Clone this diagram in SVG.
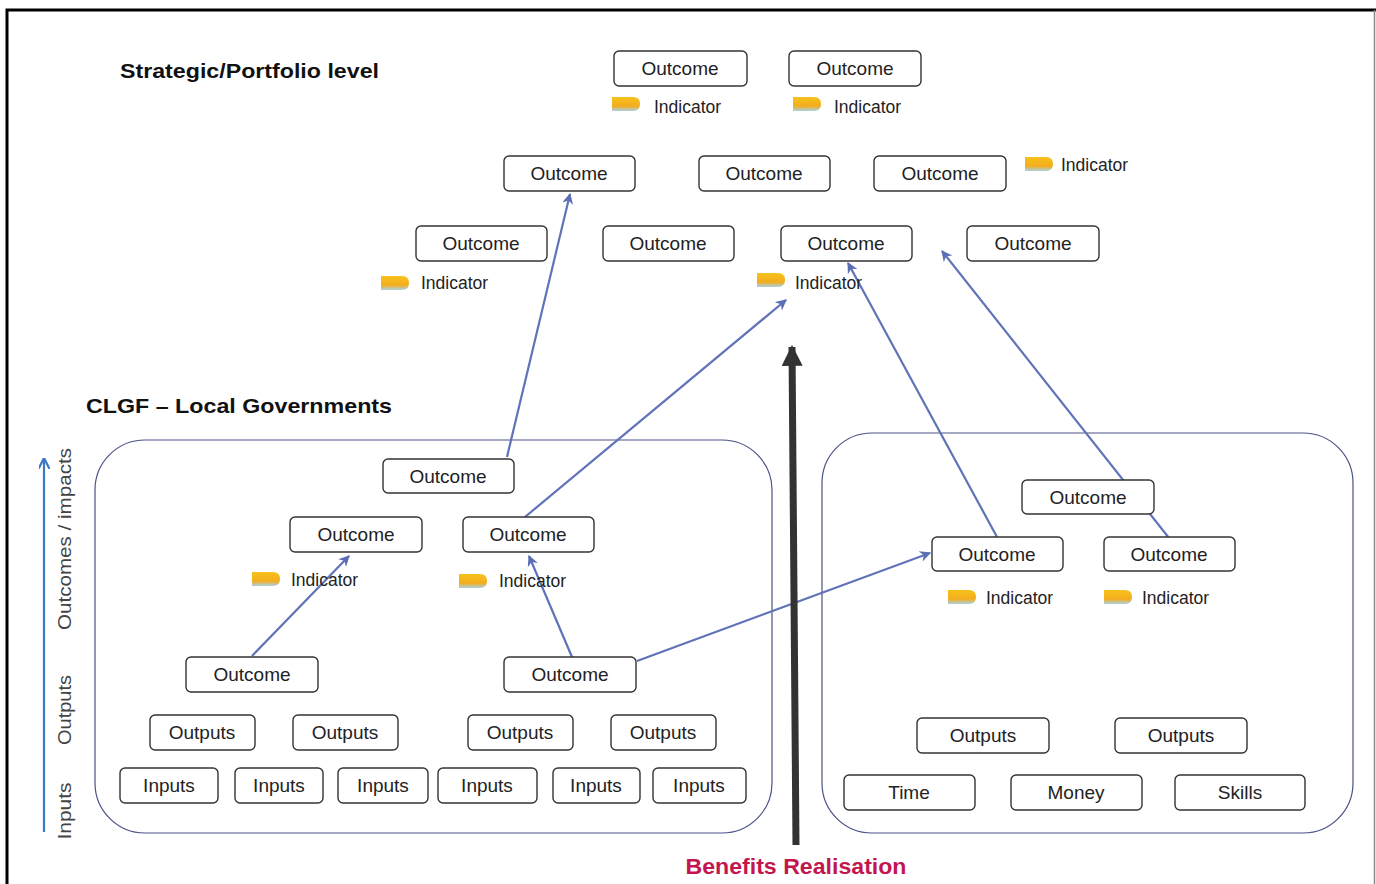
<svg xmlns="http://www.w3.org/2000/svg" width="1376" height="884" viewBox="0 0 1376 884">
<defs>
<marker id="ah" viewBox="0 0 10 10" refX="9" refY="5" markerWidth="5" markerHeight="5" orient="auto-start-reverse" markerUnits="strokeWidth">
<path d="M0,0 L10,5 L0,10 L3,5 z" fill="#5a6db5"/>
</marker>
<marker id="ahBig" viewBox="0 0 10 10" refX="9" refY="5" markerWidth="3" markerHeight="3" orient="auto" markerUnits="strokeWidth">
<path d="M0,0 L10,5 L0,10 z" fill="#333"/>
</marker>
<marker id="ahAxis" viewBox="0 0 10 10" refX="9" refY="5" markerWidth="5" markerHeight="5" orient="auto" markerUnits="strokeWidth">
<path d="M0,0 L10,5 L0,10" fill="none" stroke="#3d78c0" stroke-width="2"/>
</marker>
<linearGradient id="ind" x1="0" y1="0" x2="0" y2="1">
<stop offset="0" stop-color="#f6c21c"/>
<stop offset="0.65" stop-color="#f4ad1c"/>
<stop offset="1" stop-color="#a9d3e8"/>
</linearGradient>
<g id="icon"><path d="M0,0 H21 Q28,0 28,7 Q28,14 21,14 H0 z" fill="url(#ind)"/></g>
</defs>
<style>
.box{fill:#fff;stroke:#333;stroke-width:1.4}
.t{font-family:"Liberation Sans",Arial,sans-serif;font-size:19px;fill:#222;text-anchor:middle;dominant-baseline:central}
.ind{font-family:"Liberation Sans",Arial,sans-serif;font-size:17.5px;fill:#222}
.hdr{font-family:"Liberation Sans",Arial,sans-serif;font-size:21px;font-weight:bold;fill:#111}
.grp{fill:none;stroke:#4a5286;stroke-width:1.2}
.conn{stroke:#6073b8;stroke-width:2.2;fill:none}
.ax{font-family:"Liberation Sans",Arial,sans-serif;font-size:19px;fill:#444;text-anchor:middle}
</style>
<rect x="0" y="0" width="1376" height="884" fill="#fff"/>
<!-- frame -->
<path d="M7,884 V10 H1376" fill="none" stroke="#000" stroke-width="3"/>
<line x1="1374.5" y1="10" x2="1374.5" y2="884" stroke="#888" stroke-width="1.5"/>

<!-- headers -->
<text class="hdr" x="120" y="78" textLength="259" lengthAdjust="spacingAndGlyphs">Strategic/Portfolio level</text>
<text class="hdr" x="86" y="413" textLength="306" lengthAdjust="spacingAndGlyphs">CLGF – Local Governments</text>

<!-- group containers -->
<rect class="grp" x="95" y="440" width="677" height="393" rx="50"/>
<rect class="grp" x="822" y="433" width="531" height="400" rx="50"/>

<!-- left axis -->
<g id="axis">
<line x1="44" y1="832" x2="44" y2="459" stroke="#3d78c0" stroke-width="2.2" marker-end="url(#ahAxis)"/>
<text class="ax" transform="translate(71,811) rotate(-90)" textLength="57" lengthAdjust="spacingAndGlyphs">Inputs</text>
<text class="ax" transform="translate(71,710) rotate(-90)" textLength="70" lengthAdjust="spacingAndGlyphs">Outputs</text>
<text class="ax" transform="translate(71,539) rotate(-90)" textLength="182" lengthAdjust="spacingAndGlyphs">Outcomes / impacts</text>
</g>

<!-- connectors -->
<g id="connectors">
<line class="conn" x1="507" y1="457" x2="570" y2="194" marker-end="url(#ah)"/>
<line class="conn" x1="525" y1="517" x2="786" y2="300" marker-end="url(#ah)"/>
<line class="conn" x1="252" y1="656" x2="349" y2="556" stroke="#7076a4" marker-end="url(#ah)"/>
<line class="conn" x1="572" y1="657" x2="529" y2="556" stroke="#7076a4" marker-end="url(#ah)"/>
<line class="conn" x1="637" y1="661" x2="930" y2="553" marker-end="url(#ah)"/>
<line class="conn" x1="997" y1="537" x2="848" y2="263" stroke="#6a6fa8" marker-end="url(#ah)"/>
<line class="conn" x1="1169" y1="538" x2="942" y2="251" stroke="#6a6fa8" marker-end="url(#ah)"/>
<line x1="796" y1="845" x2="792" y2="347" stroke="#333" stroke-width="7" marker-end="url(#ahBig)"/>
</g>

<text x="796" y="874" font-family="'Liberation Sans',Arial,sans-serif" font-size="22" font-weight="bold" fill="#c3164f" text-anchor="middle" textLength="221" lengthAdjust="spacingAndGlyphs">Benefits Realisation</text>

<!-- strategic nodes -->
<g id="s1"><rect class="box" x="614" y="51" width="133" height="35" rx="5"/><text class="t" x="680" y="68">Outcome</text></g>
<g id="s2"><rect class="box" x="789" y="51" width="132" height="35" rx="5"/><text class="t" x="855" y="68">Outcome</text></g>
<g id="si1"><use href="#icon" x="612" y="97"/><text class="ind" x="654" y="113">Indicator</text></g>
<g id="si2"><use href="#icon" x="793" y="97"/><text class="ind" x="834" y="113">Indicator</text></g>

<g id="s3"><rect class="box" x="504" y="156" width="131" height="35" rx="5"/><text class="t" x="569" y="173">Outcome</text></g>
<g id="s4"><rect class="box" x="699" y="156" width="131" height="35" rx="5"/><text class="t" x="764" y="173">Outcome</text></g>
<g id="s5"><rect class="box" x="874" y="156" width="132" height="35" rx="5"/><text class="t" x="940" y="173">Outcome</text></g>
<g id="si3"><use href="#icon" x="1025" y="157"/><text class="ind" x="1061" y="171">Indicator</text></g>

<g id="s6"><rect class="box" x="416" y="226" width="131" height="35" rx="5"/><text class="t" x="481" y="243">Outcome</text></g>
<g id="s7"><rect class="box" x="603" y="226" width="131" height="35" rx="5"/><text class="t" x="668" y="243">Outcome</text></g>
<g id="s8"><rect class="box" x="781" y="226" width="131" height="35" rx="5"/><text class="t" x="846" y="243">Outcome</text></g>
<g id="s9"><rect class="box" x="967" y="226" width="132" height="35" rx="5"/><text class="t" x="1033" y="243">Outcome</text></g>
<g id="si4"><use href="#icon" x="381" y="276"/><text class="ind" x="421" y="289">Indicator</text></g>
<g id="si5"><use href="#icon" x="757" y="273"/><text class="ind" x="795" y="289">Indicator</text></g>

<!-- left group nodes -->
<g id="l1"><rect class="box" x="383" y="459" width="131" height="34" rx="5"/><text class="t" x="448" y="476">Outcome</text></g>
<g id="l2"><rect class="box" x="290" y="517" width="132" height="35" rx="5"/><text class="t" x="356" y="534">Outcome</text></g>
<g id="l3"><rect class="box" x="463" y="517" width="131" height="35" rx="5"/><text class="t" x="528" y="534">Outcome</text></g>
<g id="li1"><use href="#icon" x="252" y="572"/><text class="ind" x="291" y="586">Indicator</text></g>
<g id="li2"><use href="#icon" x="459" y="574"/><text class="ind" x="499" y="587">Indicator</text></g>
<g id="l4"><rect class="box" x="186" y="657" width="132" height="35" rx="5"/><text class="t" x="252" y="674">Outcome</text></g>
<g id="l5"><rect class="box" x="504" y="657" width="132" height="35" rx="5"/><text class="t" x="570" y="674">Outcome</text></g>
<g id="lo1"><rect class="box" x="150" y="715" width="105" height="35" rx="5"/><text class="t" x="202" y="732">Outputs</text></g>
<g id="lo2"><rect class="box" x="293" y="715" width="105" height="35" rx="5"/><text class="t" x="345" y="732">Outputs</text></g>
<g id="lo3"><rect class="box" x="468" y="715" width="105" height="35" rx="5"/><text class="t" x="520" y="732">Outputs</text></g>
<g id="lo4"><rect class="box" x="611" y="715" width="105" height="35" rx="5"/><text class="t" x="663" y="732">Outputs</text></g>
<g id="lin1"><rect class="box" x="120" y="768" width="98" height="35" rx="5"/><text class="t" x="169" y="785">Inputs</text></g>
<g id="lin2"><rect class="box" x="235" y="768" width="88" height="35" rx="5"/><text class="t" x="279" y="785">Inputs</text></g>
<g id="lin3"><rect class="box" x="338" y="768" width="90" height="35" rx="5"/><text class="t" x="383" y="785">Inputs</text></g>
<g id="lin4"><rect class="box" x="438" y="768" width="99" height="35" rx="5"/><text class="t" x="487" y="785">Inputs</text></g>
<g id="lin5"><rect class="box" x="553" y="768" width="87" height="35" rx="5"/><text class="t" x="596" y="785">Inputs</text></g>
<g id="lin6"><rect class="box" x="653" y="768" width="93" height="35" rx="5"/><text class="t" x="699" y="785">Inputs</text></g>

<!-- right group nodes -->
<g id="r1"><rect class="box" x="1022" y="480" width="132" height="34" rx="5"/><text class="t" x="1088" y="497">Outcome</text></g>
<g id="r2"><rect class="box" x="932" y="537" width="131" height="34" rx="5"/><text class="t" x="997" y="554">Outcome</text></g>
<g id="r3"><rect class="box" x="1104" y="537" width="131" height="34" rx="5"/><text class="t" x="1169" y="554">Outcome</text></g>
<g id="ri1"><use href="#icon" x="948" y="590"/><text class="ind" x="986" y="604">Indicator</text></g>
<g id="ri2"><use href="#icon" x="1104" y="590"/><text class="ind" x="1142" y="604">Indicator</text></g>
<g id="ro1"><rect class="box" x="917" y="718" width="132" height="35" rx="5"/><text class="t" x="983" y="735">Outputs</text></g>
<g id="ro2"><rect class="box" x="1115" y="718" width="132" height="35" rx="5"/><text class="t" x="1181" y="735">Outputs</text></g>
<g id="rt"><rect class="box" x="844" y="775" width="131" height="35" rx="5"/><text class="t" x="909" y="792">Time</text></g>
<g id="rm"><rect class="box" x="1011" y="775" width="131" height="35" rx="5"/><text class="t" x="1076" y="792">Money</text></g>
<g id="rs"><rect class="box" x="1175" y="775" width="130" height="35" rx="5"/><text class="t" x="1240" y="792">Skills</text></g>
</svg>
